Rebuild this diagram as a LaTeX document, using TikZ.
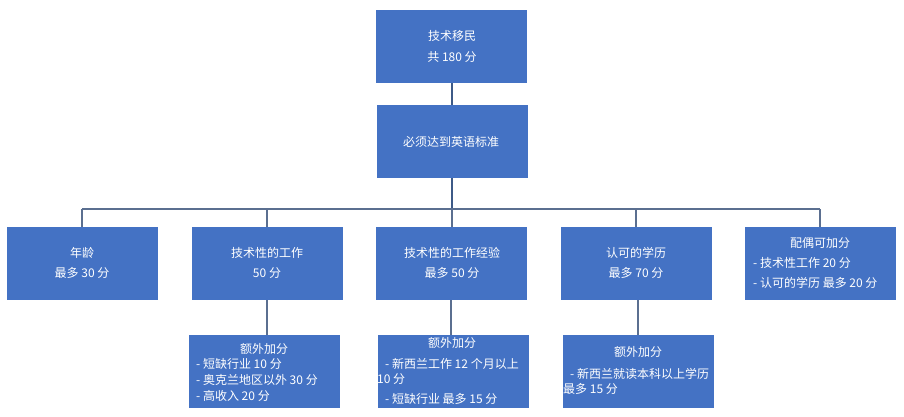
\documentclass[tikz,border=0pt]{standalone}
\usepackage{fontspec}
\setmainfont{Noto Sans CJK SC}
\definecolor{boxblue}{HTML}{4472C4}
\definecolor{linedark}{HTML}{3D5A87}
\definecolor{linemid}{HTML}{5B6F90}
\tikzset{
  boxnode/.style={fill=boxblue, draw=none, minimum width=151pt, minimum height=73pt, inner sep=0pt, anchor=north west},
  txt/.style={text=white, font=\fontsize{12pt}{13pt}\selectfont, inner sep=0pt},
  txtl/.style={txt, anchor=west},
  thickconn/.style={draw=linedark, line width=2.2pt},
  thinconn/.style={draw=linemid, line width=1.3pt},
}
\begin{document}
\begin{tikzpicture}[x=1pt,y=-1pt]
\useasboundingbox (0,0) rectangle (904,416);
% boxes
\node[boxnode] (top) at (376,10) {};
\node[boxnode] (eng) at (377,105) {};
\node[boxnode] (age) at (7,227) {};
\node[boxnode] (job) at (192,227) {};
\node[boxnode] (exp) at (376,227) {};
\node[boxnode] (edu) at (561,227) {};
\node[boxnode] (sp) at (745,227) {};
\node[boxnode] (jobx) at (189,335) {};
\node[boxnode] (expx) at (378,335) {};
\node[boxnode] (edux) at (563,335) {};
% connectors
\coordinate (hl) at (82,209);
\coordinate (hr) at (820,209);
\coordinate (hm) at (452,209);
\draw[thickconn] (top.south -| 452,0) -- (eng.north -| 452,0);
\draw[thickconn] (eng.south -| 452,0) -- (hm);
\draw[thinconn] (hl) -- (hr);
\draw[thinconn] (hl) -- (age.north -| hl);
\draw[thinconn] (267,209) -- (job.north -| 267,0);
\draw[thinconn] (hm) -- (exp.north -| hm);
\draw[thinconn] (636,209) -- (edu.north -| 636,0);
\draw[thinconn] (hr) -- (sp.north -| hr);
\draw[thinconn] (job.south -| 267,0) -- (jobx.north -| 267,0);
\draw[thinconn] (exp.south -| 451,0) -- (expx.north -| 451,0);
\draw[thinconn] (edu.south -| 638,0) -- (edux.north -| 638,0);
% texts
\node[txt] (t1) at (452,36) {技术移民};
\node[txt] (t2) at (452,57) {共 180 分};
\node[txt] (t3) at (451,142) {必须达到英语标准};
\node[txt] (a1) at (82,253) {年龄};
\node[txt] (a2) at (82,273) {最多 30 分};
\node[txt] (b1) at (267,253) {技术性的工作};
\node[txt] (b2) at (267,273) {50 分};
\node[txt] (c1) at (452,253) {技术性的工作经验};
\node[txt] (c2) at (452,273) {最多 50 分};
\node[txt] (d1) at (636,253) {认可的学历};
\node[txt] (d2) at (636,273) {最多 70 分};
\node[txt] (e1) at (820,243) {配偶可加分};
\node[txtl] (e2) at (753,263) {- 技术性工作 20 分};
\node[txtl] (e3) at (753,283) {- 认可的学历 最多 20 分};
\node[txt] (bx1) at (264,349) {额外加分};
\node[txtl] (bx2) at (196,364) {- 短缺行业 10 分};
\node[txtl] (bx3) at (196,380) {- 奥克兰地区以外 30 分};
\node[txtl] (bx4) at (196,396) {- 高收入 20 分};
\node[txt] (cx1) at (452,343) {额外加分};
\node[txtl] (cx2) at (385,364) {- 新西兰工作 12 个月以上};
\node[txtl] (cx3) at (377,379) {10 分};
\node[txtl] (cx4) at (385,399) {- 短缺行业 最多 15 分};
\node[txt] (dx1) at (638,352) {额外加分};
\node[txtl] (dx2) at (570,374) {- 新西兰就读本科以上学历};
\node[txtl] (dx3) at (563,389) {最多 15 分};
\end{tikzpicture}
\end{document}
